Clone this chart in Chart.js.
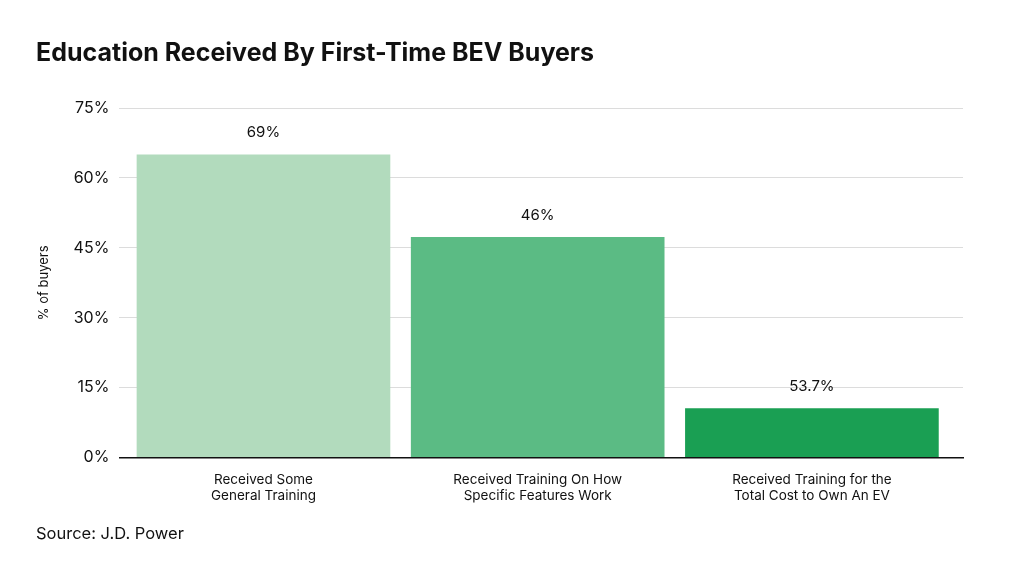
<!DOCTYPE html>
<html>
<head>
<meta charset="utf-8">
<script src="https://cdn.jsdelivr.net/npm/chart.js@4.4.1/dist/chart.umd.min.js"></script>
<style>
  html, body { margin: 0; padding: 0; background: #fff; }
  body { width: 1024px; height: 565px; position: relative; overflow: hidden; font-family: Inter, "Liberation Sans", sans-serif; }
  #title { position: absolute; left: 36px; top: 37px; font-size: 25px; font-weight: 700; color: #111; }
  #source { position: absolute; left: 36px; top: 523px; font-size: 16.5px; color: #111; }
  #wrap { position: absolute; left: 0; top: 0; width: 1024px; height: 565px; }
</style>
</head>
<body>
<div id="wrap"><canvas id="chart"></canvas></div>
<div id="title">Education Received By First-Time BEV Buyers</div>
<div id="source">Source: J.D. Power</div>
<script>
const categories = [
  ['Received Some', 'General Training'],
  ['Received Training On How', 'Specific Features Work'],
  ['Received Training for the', 'Total Cost to Own An EV']
];
// bar heights as drawn in the picture
const barValues = [65.0, 47.3, 10.6];
// labels as printed above the bars
const barLabels = ['69%', '46%', '53.7%'];
const barColors = ['#b2dbbd', '#5bbb84', '#1a9f53'];
const yTicks = [0, 15, 30, 45, 60, 75];

const FONT = 'Inter, "Liberation Sans", sans-serif';

// Подписи над столбцами
const valueLabels = {
  id: 'valueLabels',
  afterDatasetsDraw(chart) {
    const ctx = chart.ctx;
    const meta = chart.getDatasetMeta(0);
    ctx.save();
    ctx.font = '15px ' + FONT;
    ctx.fillStyle = '#111';
    ctx.textAlign = 'center';
    ctx.textBaseline = 'middle';
    meta.data.forEach((bar, i) => {
      ctx.fillText(barLabels[i], bar.x, bar.y - 22);
    });
    ctx.restore();
  }
};

new Chart(document.getElementById('chart'), {
  type: 'bar',
  data: {
    datasets: [{
      data: barValues.map((v, i) => ({ x: i, y: v })),
      backgroundColor: barColors,
      barPercentage: 0.925,
      categoryPercentage: 1.0
    }]
  },
  options: {
    responsive: true,
    maintainAspectRatio: false,
    animation: false,
    layout: { padding: { top: 108, right: 61, bottom: 55, left: 36 } },
    plugins: { legend: { display: false }, tooltip: { enabled: false } },
    scales: {
      x: {
        type: 'linear',
        min: -0.5255,
        max: 2.551,
        offset: false,
        afterBuildTicks(scale) { scale.ticks = categories.map((c, i) => ({ value: i })); },
        grid: { display: false },
        border: { color: '#111', width: 1.5 },
        ticks: {
          color: '#111',
          padding: 6,
          maxRotation: 0,
          autoSkip: false,
          font: { family: FONT, size: 13.5, lineHeight: 1.2 },
          callback: (v) => categories[v]
        }
      },
      y: {
        min: yTicks[0],
        max: yTicks[yTicks.length - 1],
        afterBuildTicks(scale) { scale.ticks = yTicks.map((v) => ({ value: v })); },
        grid: { color: '#dcdcdc', drawTicks: false },
        border: { display: false },
        ticks: {
          color: '#111',
          padding: 10,
          font: { family: FONT, size: 16 },
          callback: (v) => v + '%'
        },
        title: {
          display: true,
          text: '% of buyers',
          color: '#111',
          padding: { top: 0, bottom: 12 },
          font: { family: FONT, size: 13 }
        }
      }
    }
  },
  plugins: [valueLabels]
});
</script>
</body>
</html>
